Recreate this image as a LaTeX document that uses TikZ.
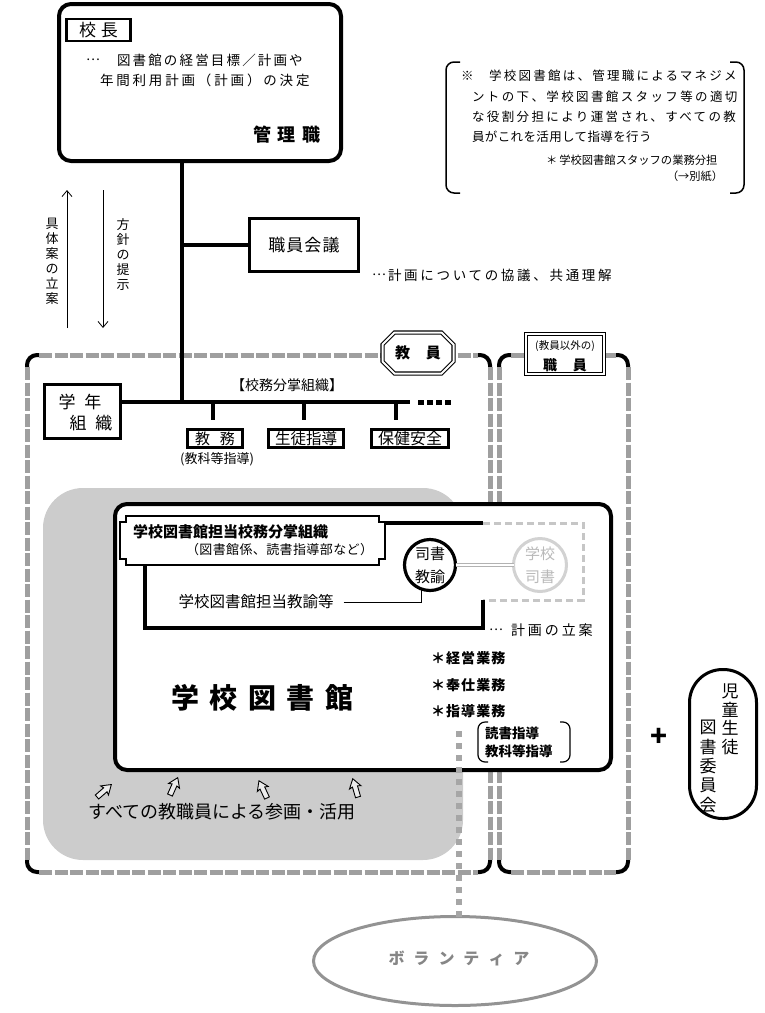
\documentclass[tikz,border=0pt]{standalone}
\usepackage{fontspec}
\setmainfont{Noto Sans CJK JP}
\newfontfamily\jp{Noto Sans CJK JP}
\usetikzlibrary{shapes.misc,shapes.geometric,arrows.meta,calc}
\newcommand\fs[1]{\fontsize{#1}{#1}\selectfont}
\newcommand\lsp[1]{\addfontfeatures{LetterSpace=#1}}
\tikzset{
  every node/.style={inner sep=0pt, outer sep=0pt},
  heavy/.style={line width=4pt},
  boxln/.style={draw, line width=3pt},
  stripe/.style={draw=gray!75, line width=5pt, dash pattern=on 13pt off 2.5pt},
  stripebg/.style={draw=white, line width=6pt},
  framecorner/.style={draw=black, line width=4pt, rounded corners=10pt},
  lblbox/.style={chamfered rectangle, chamfered rectangle xsep=6pt, chamfered rectangle ysep=6pt,
     draw, double, double distance=2pt, line width=1.1pt, fill=white},
  thinarrow/.style={line width=0.8pt, -{Straight Barb[length=6pt,width=10pt]}},
  hol/.pic={\draw[line width=0.9pt, fill=gray!15] (0,-2.6) -- (11,-2.6) -- (10,-6) -- (19,0) -- (10,6) -- (11,2.6) -- (0,2.6) -- cycle;},
  sqdots/.style={draw=gray!70, line width=6pt, dash pattern=on 6pt off 6pt},
}
\begin{document}
\begin{tikzpicture}[x=1pt,y=-1pt]
\useasboundingbox (0,0) rectangle (764,1013);

% ---------- staff regions ----------
\draw[framecorner] (27,355) rectangle (490,872);
\draw[stripebg] (39,355) -- (478,355) (39,872) -- (478,872) (27,367) -- (27,860) (490,367) -- (490,860);
\draw[stripe] (39,355) -- (478,355) (39,872) -- (478,872) (27,367) -- (27,860) (490,367) -- (490,860);
\draw[framecorner] (499,355) rectangle (628,872);
\draw[stripebg] (511,355) -- (616,355) (511,872) -- (616,872) (499,367) -- (499,860) (628,367) -- (628,860);
\draw[stripe] (511,355) -- (616,355) (511,872) -- (616,872) (499,367) -- (499,860) (628,367) -- (628,860);

\node[lblbox, minimum width=71pt, minimum height=41pt, font=\fs{15}\bfseries] (kyoin) at (418,353) {教\hspace{16pt}員};
\node[lblbox, minimum width=78pt, minimum height=40pt] (shokuin) at (565,354) {};
\node[font=\fs{10.5}] (igai) at (565,346) {(教員以外の)};
\node[font=\fs{14}\bfseries] (shk2) at (565,365) {職\hspace{16pt}員};

% ---------- gray participation region ----------
\fill[gray!40, rounded corners=40pt] (43,488) rectangle (463,860);

% ---------- top: principal ----------
\node[draw, line width=4pt, rounded corners=12pt, minimum width=282pt, minimum height=157pt] (top) at (200,82.5) {};
\node[draw, line width=2.5pt, minimum width=64pt, minimum height=22pt, font=\fs{17}] (kocho) at (98.5,30) {校\hspace{5pt}長};
\node[anchor=west, font=\fs{13}] (t1a) at (86,60) {…};
\node[anchor=west, font=\fs{13.5}\lsp{16}] (t1) at (117,60) {図書館の経営目標／計画や};
\node[anchor=west, font=\fs{13.5}\lsp{21}] (t2) at (100,80) {年間利用計画（計画）の決定};
\node[font=\fs{18}\bfseries] (kanri) at (287,135) {管\hspace{7pt}理\hspace{7pt}職};

% ---------- note ----------
\draw[line width=1.5pt, rounded corners=8pt] (460,62) -- (446,62) -- (446,193) -- (460,193);
\draw[line width=1.5pt, rounded corners=8pt] (730,62) -- (744,62) -- (744,193) -- (730,193);
\node[anchor=west, font=\fs{12.5}] (n0) at (461,76) {※};
\node[anchor=west, font=\fs{12.5}\lsp{18}] (n1) at (489,76) {学校図書館は、管理職によるマネジメ};
\node[anchor=west, font=\fs{12.5}\lsp{19}] (n2) at (472,97) {ントの下、学校図書館スタッフ等の適切};
\node[anchor=west, font=\fs{12.5}\lsp{19}] (n3) at (472,117) {な役割分担により運営され、すべての教};
\node[anchor=west, font=\fs{12.5}\lsp{3}] (n4) at (472,137) {員がこれを活用して指導を行う};
\node[anchor=west, font=\fs{11.3}] (n5) at (546,160) {＊\hspace{2pt}学校図書館スタッフの業務分担};
\node[anchor=west, font=\fs{11.2}] (n6) at (667,176) {（→別紙）};

% ---------- staff meeting ----------
\node[boxln, minimum width=109pt, minimum height=53pt, font=\fs{17}\lsp{6}] (kaigi) at (304,245) {職員会議};
\node[anchor=west, font=\fs{13}] (k1a) at (372,275) {…};
\node[anchor=west, font=\fs{13.5}\lsp{20}] (k1) at (388,275) {計画についての協議、共通理解};

% ---------- left arrows ----------
\coordinate (ua) at (67,328); \coordinate (ub) at (67,190);
\coordinate (da) at (103,190); \coordinate (db) at (103,328);
\draw[thinarrow] (ua) -- (ub);
\draw[thinarrow] (da) -- (db);
\node[align=center, font=\fontsize{13}{15}\selectfont] (gutai) at (52,261) {具\\体\\案\\の\\立\\案};
\node[align=center, font=\fontsize{13}{15}\selectfont] (hoshin) at (123,255) {方\\針\\の\\提\\示};

% ---------- main trunk ----------
\coordinate (j) at (182,402);
\draw[heavy] (top.south -| j) -- (j);
\draw[heavy] (kaigi.west -| j) -- (kaigi.west);

\node[boxln, minimum width=76pt, minimum height=54pt] (gakunen) at (82.5,411.5) {};
\node[font=\fs{17}] (gk1) at (80,402) {学\hspace{9pt}年};
\node[font=\fs{17}] (gk2) at (91,423) {組\hspace{9pt}織};

\coordinate (jr) at (410,402);
\draw[heavy] (gakunen.east |- j) -- (jr);
\coordinate (dd1) at (418,402); \coordinate (dd2) at (452,402);
\draw[line width=5pt, dash pattern=on 6pt off 3pt] (dd1) -- (dd2);
\node[font=\fs{14}] (bunka) at (287,385) {【校務分掌組織】};

\node[draw, line width=3pt, minimum width=55pt, minimum height=18pt, font=\fs{15}] (kyomu) at (215,438.5) {教\hspace{10pt}務};
\node[draw, line width=3pt, minimum width=75pt, minimum height=18pt, font=\fs{15.5}] (seito) at (306,438.5) {生徒指導};
\node[draw, line width=3pt, minimum width=77pt, minimum height=18pt, font=\fs{16}] (hoken) at (410,438.5) {保健安全};
\node[font=\fs{13}] (kyoka) at (217,459) {(教科等指導)};
\coordinate (k1t) at (213,402); \coordinate (k2t) at (304,402); \coordinate (k3t) at (396,402);
\draw[heavy] (k1t) -- (k1t |- 0,420);
\draw[heavy] (k2t) -- (k2t |- 0,420);
\draw[heavy] (k3t) -- (k3t |- 0,420);

% ---------- school library ----------
\node[draw, fill=white, line width=4pt, rounded corners=12pt, minimum width=496pt, minimum height=266pt] (lib) at (363,637) {};

\coordinate (fA) at (385,523); \coordinate (fB) at (483,523); \coordinate (fC) at (583,523);
\coordinate (fD) at (583,600); \coordinate (fE) at (483,600); \coordinate (fF) at (483,628);
\coordinate (fG) at (145,628); \coordinate (fH) at (145,565);
\draw[line width=4.5pt] (fA) -- (fB);
\draw[gray!45, line width=3pt, dash pattern=on 7pt off 4pt] (fB) -- (fC) -- (fD) -- (fE);
\draw[line width=4.5pt] (fE) -- (fF) -- (fG) -- (fH);

\draw[line width=1.5pt, fill=white] (126,516) -- (379,516) -- (379,522) -- (385,522) -- (385,559) -- (379,559) -- (379,565)
   -- (126,565) -- (126,559) -- (120,559) -- (120,522) -- (126,522) -- cycle;
\node[font=\fs{15}\bfseries, anchor=west] (tanso) at (133,532) {学校図書館担当校務分掌組織};
\node[font=\fs{13}\lsp{3}, anchor=west] (tanso2) at (186,550) {（図書館係、読書指導部など）};

\node[circle, draw, line width=3.2pt, minimum size=51pt, align=center, font=\fontsize{15}{23}\selectfont] (shk) at (430,565) {司書\\教諭};
\node[circle, draw=gray!35, line width=3pt, minimum size=53pt, align=center, text=gray!55, font=\fontsize{15}{23}\selectfont] (shs) at (540,565) {学校\\司書};
\draw[gray!60, double, double distance=2pt, line width=1pt] (shk.east) -- (shs.west);

\node[font=\fs{15.5}] (tanto) at (256,602) {学校図書館担当教諭等};
\draw[line width=0.9pt] ($(tanto.east)+(10,0)$) -- (shk.250 |- tanto.east) -- (shk.250);
\node[anchor=west, font=\fs{13}] (r0) at (489,630) {…};
\node[anchor=west, font=\fs{14}\lsp{21}] (ritsuan) at (511,630) {計画の立案};

\node[font=\fs{28}\bfseries] (libname) at (262,698) {学\hspace{10.5pt}校\hspace{10.5pt}図\hspace{10.5pt}書\hspace{10.5pt}館};

\node[anchor=west, font=\fs{14}\bfseries\lsp{8}] (g1) at (431,658) {＊経営業務};
\node[anchor=west, font=\fs{14}\bfseries\lsp{8}] (g2) at (431,685) {＊奉仕業務};
\node[anchor=west, font=\fs{14}\bfseries\lsp{8}] (g3) at (431,711) {＊指導業務};
\draw[line width=1.2pt, rounded corners=7pt] (488,722) -- (478,722) -- (478,762) -- (488,762);
\draw[line width=1.2pt, rounded corners=7pt] (560,722) -- (570,722) -- (570,762) -- (560,762);
\node[anchor=west, align=left, font=\fontsize{13.5}{18}\selectfont\bfseries] (shido) at (485,742) {読書指導\\教科等指導};

\node[font=\fs{18}] (subete) at (222,812) {すべての教職員による参画・活用};
\pic[rotate=41] at (97,797) {hol};
\pic[rotate=66] at (170,795) {hol};
\pic[rotate=115] at (267,798) {hol};
\pic[rotate=106] at (358,797) {hol};

% ---------- volunteers ----------
\node[ellipse, draw=gray!85, line width=3pt, minimum width=283pt, minimum height=89pt] (vol) at (455,961) {};
\node[font=\fs{16}\bfseries, text=gray!95] (voltxt) at (459,958) {ボ\hspace{9pt}ラ\hspace{9pt}ン\hspace{9pt}テ\hspace{9pt}ィ\hspace{9pt}ア};
\coordinate (dtop) at (459,731);
\draw[sqdots] (dtop) -- (dtop |- vol.north);

% ---------- student committee ----------
\node[font=\fs{28}\bfseries] (plus) at (659,737) {+};
\node[draw, line width=3pt, rounded corners=33pt, minimum width=67pt, minimum height=149pt] (iin) at (723,744) {};
\node[align=center, font=\fontsize{17}{18.5}\selectfont] (col1) at (730,719.5) {児\\童\\生\\徒};
\node[align=center, font=\fontsize{17}{19.3}\selectfont] (col2) at (708,766.5) {図\\書\\委\\員\\会};
\end{tikzpicture}
\end{document}
